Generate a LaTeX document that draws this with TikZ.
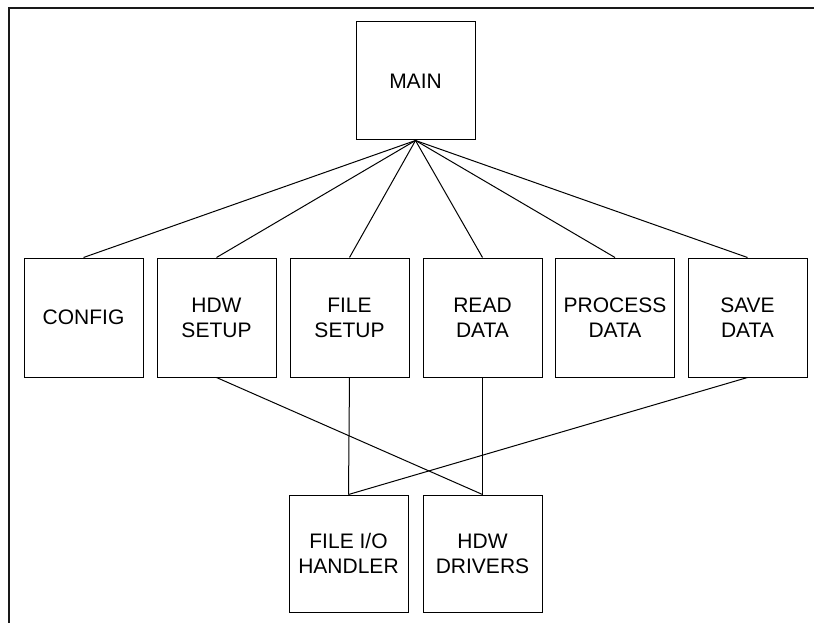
\documentclass[tikz,border=0pt]{standalone}
\usepackage{fontspec}
\setmainfont{Liberation Sans}
\begin{document}
\begin{tikzpicture}[x=1pt,y=-1pt,
  module/.style={draw, rectangle, line width=1pt, minimum width=119pt, minimum height=119pt,
    inner sep=0pt, align=center, font=\fontsize{21}{25}\selectfont},
  link/.style={line width=1pt}]
\useasboundingbox (0,0) rectangle (814,623);
\draw[line width=2pt, black!90] (8.5,623) -- (8.5,8.3) -- (814,8.3);
\node[module, minimum height=118pt] (main) at (415.5,81) {MAIN};
\node[module] (config) at (83.5,317.5) {CONFIG};
\node[module] (hdwsetup) at (216.5,317.5) {HDW\\SETUP};
\node[module] (filesetup) at (349.5,317.5) {FILE\\SETUP};
\node[module] (readdata) at (482.5,317.5) {READ\\DATA};
\node[module] (processdata) at (615,317.5) {PROCESS\\DATA};
\node[module] (savedata) at (747.5,317.5) {SAVE\\DATA};
\node[module, minimum height=117pt] (fileio) at (348.5,553.5) {FILE I/O\\HANDLER};
\node[module, minimum height=117pt] (hdwdrivers) at (482.5,553.5) {HDW\\DRIVERS};
\foreach \m in {config,hdwsetup,filesetup,readdata,processdata,savedata}
  \draw[link] (main.south) -- (\m.north);
\draw[link] (filesetup.south) -- (fileio.north);
\draw[link] (readdata.south) -- (hdwdrivers.north);
\draw[link] (hdwsetup.south) -- (hdwdrivers.north);
\draw[link] (savedata.south) -- (fileio.north);
\end{tikzpicture}
\end{document}
